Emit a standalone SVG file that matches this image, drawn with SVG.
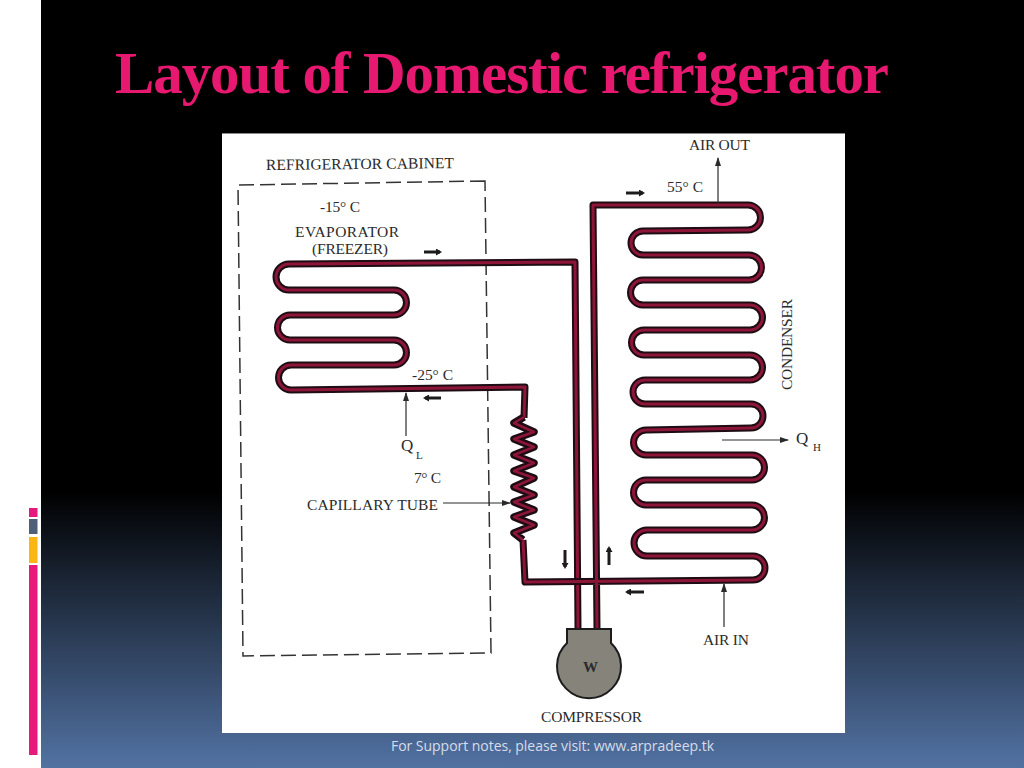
<svg xmlns="http://www.w3.org/2000/svg" width="1024" height="768" viewBox="0 0 1024 768">
<style>
.t{font-family:"Liberation Serif","Times New Roman",serif;fill:#2b2b2b;font-size:15.500px}
.o{fill:none;stroke:#1e0c14;stroke-width:7;stroke-linejoin:round}
.i{fill:none;stroke:#8c1538;stroke-width:3;stroke-linejoin:round}
.ko{fill:none;stroke:#1e0c14;stroke-width:7.500;stroke-linejoin:round}
.ki{fill:none;stroke:#8c1538;stroke-width:2.500;stroke-linejoin:round}
.a{fill:none;stroke:#2b2b2b;stroke-width:1.200}
.f{fill:none;stroke:#1c1c1c;stroke-width:3}
</style>
<defs>
<linearGradient id="bg" x1="0" y1="0" x2="0" y2="1"><stop offset="0" stop-color="#000"/><stop offset="0.64" stop-color="#000"/><stop offset="1" stop-color="#5272a3"/></linearGradient>
<marker id="ah" markerUnits="userSpaceOnUse" markerWidth="9" markerHeight="8" refX="8" refY="3" orient="auto"><path d="M0 0L9 3L0 6Z" fill="#2b2b2b"/></marker>
<marker id="fh" markerUnits="userSpaceOnUse" markerWidth="6" markerHeight="7" refX="4" refY="3.500" orient="auto"><path d="M0 0L6 3.500L0 7Z" fill="#1c1c1c"/></marker>
<path id="pe" d="M578 628L575 262L289 264A13 13 0 0 0 289 290L394 290A12.500 12.500 0 0 1 394 315L290 315A12.500 12.500 0 0 0 290 340L394 340A12.500 12.500 0 0 1 394 365L291 365A12.500 12.500 0 0 0 291 390L525 387L524 418"/>
<path id="pc" d="M597 628L593 205L748 205A12.500 12.500 0 0 1 748 230L643 231A12 12 0 0 0 643 255L749 255A12.500 12.500 0 0 1 749 280L643 280A12.500 12.500 0 0 0 643 305L750 305A12.500 12.500 0 0 1 750 330L644 330A12.500 12.500 0 0 0 644 355L750 355A12.500 12.500 0 0 1 750 380L645 380A12 12 0 0 0 645 404L751 404A12 12 0 0 1 751 428L646 430A12.500 12.500 0 0 0 646 455L752 455A12.500 12.500 0 0 1 752 480L646 480A12.500 12.500 0 0 0 646 505L752 505A12.500 12.500 0 0 1 752 530L647 530A13 13 0 0 0 647 556L753 556A12 12 0 0 1 753 580L525 582L523 540"/>
<path id="pk" d="M524 417L514 423L534 432L514 439L534 447L514 455L534 463L514 471L534 478L514 487L534 495L514 502L534 510L514 517L534 525L514 533L523 540"/>
</defs>
<g id="slide">
<rect width="1024" height="768" fill="url(#bg)"/>
<rect width="41" height="768" fill="#fff"/>
<rect x="29" y="508" width="8.500" height="9" fill="#e8197c"/>
<rect x="29" y="519" width="8.500" height="15" fill="#4e6079"/>
<rect x="29" y="537" width="8.500" height="26" fill="#fcb514"/>
<rect x="29" y="565" width="8.500" height="190" fill="#e8197c"/>
<text x="115" y="93" font-family="'Liberation Serif','Times New Roman',serif" font-weight="700" font-size="59" fill="#e6186f" textLength="774">Layout of Domestic refrigerator</text>
<text x="391" y="751" font-family="'Open Sans','Liberation Sans',sans-serif" font-size="14" fill="#d5dde9" textLength="323">For Support notes, please visit: www.arpradeep.tk</text>
<rect x="222" y="133" width="623" height="600" fill="#fff"/>
<rect x="222" y="133" width="623" height="1" fill="#888"/>
</g>
<g id="cabinet">
<path d="M485 181L238 185L243 656L491 653Z" fill="none" stroke="#333" stroke-width="1.500" stroke-dasharray="15 6"/>
<text class="t" x="266" y="170" textLength="188" transform="rotate(-0.6 266 170)">REFRIGERATOR CABINET</text>
</g>
<g id="connectors">
<use href="#pe" class="o"/><use href="#pe" class="i"/>
<use href="#pc" class="o"/><use href="#pc" class="i"/>
<use href="#pk" class="ko"/><use href="#pk" class="ki"/>
<path class="a" marker-end="url(#ah)" d="M718 204V158"/>
<path class="a" marker-end="url(#ah)" d="M724 627V584"/>
<path class="a" marker-end="url(#ah)" d="M406 436V393"/>
<path class="a" marker-end="url(#ah)" d="M722 440H788"/>
<path class="a" marker-end="url(#ah)" d="M443 503H510"/>
<path class="f" marker-end="url(#fh)" d="M424 252H440"/>
<path class="f" marker-end="url(#fh)" d="M441 398H425"/>
<path class="f" marker-end="url(#fh)" d="M626 193H643"/>
<path class="f" marker-end="url(#fh)" d="M644 592H627"/>
<path class="f" marker-end="url(#fh)" d="M565 550V567"/>
<path class="f" marker-end="url(#fh)" d="M609 565V548"/>
</g>
<g id="evaporator">
<text class="t" x="320" y="212" textLength="40">-15° C</text>
<text class="t" x="295" y="237" textLength="104">EVAPORATOR</text>
<text class="t" x="312" y="254" textLength="76">(FREEZER)</text>
<text class="t" x="412" y="380" textLength="41">-25° C</text>
</g>
<g id="heat-in">
<text class="t" x="401" y="451" style="font-size:17px">Q</text>
<text class="t" x="416" y="459" style="font-size:11px">L</text>
<text class="t" x="414" y="483" textLength="27">7° C</text>
</g>
<g id="capillary">
<text class="t" x="307" y="510" textLength="131">CAPILLARY TUBE</text>
</g>
<g id="condenser">
<text class="t" x="0" y="0" transform="translate(792 390) rotate(-90)" textLength="91">CONDENSER</text>
<text class="t" x="667" y="192" textLength="36">55° C</text>
<text class="t" x="689" y="150" textLength="61">AIR OUT</text>
<text class="t" x="703" y="645" textLength="46">AIR IN</text>
<text class="t" x="796" y="444" style="font-size:17px">Q</text>
<text class="t" x="813" y="451" style="font-size:11px">H</text>
</g>
<g id="compressor">
<path d="M567 629H611V643A32 32 0 1 1 567 643Z" fill="#85837a" stroke="#1c1c1c" stroke-width="2"/>
<text class="t" x="583" y="672" style="font-size:15px;font-weight:700">W</text>
<text class="t" x="541" y="722" textLength="101">COMPRESSOR</text>
</g>
</svg>
